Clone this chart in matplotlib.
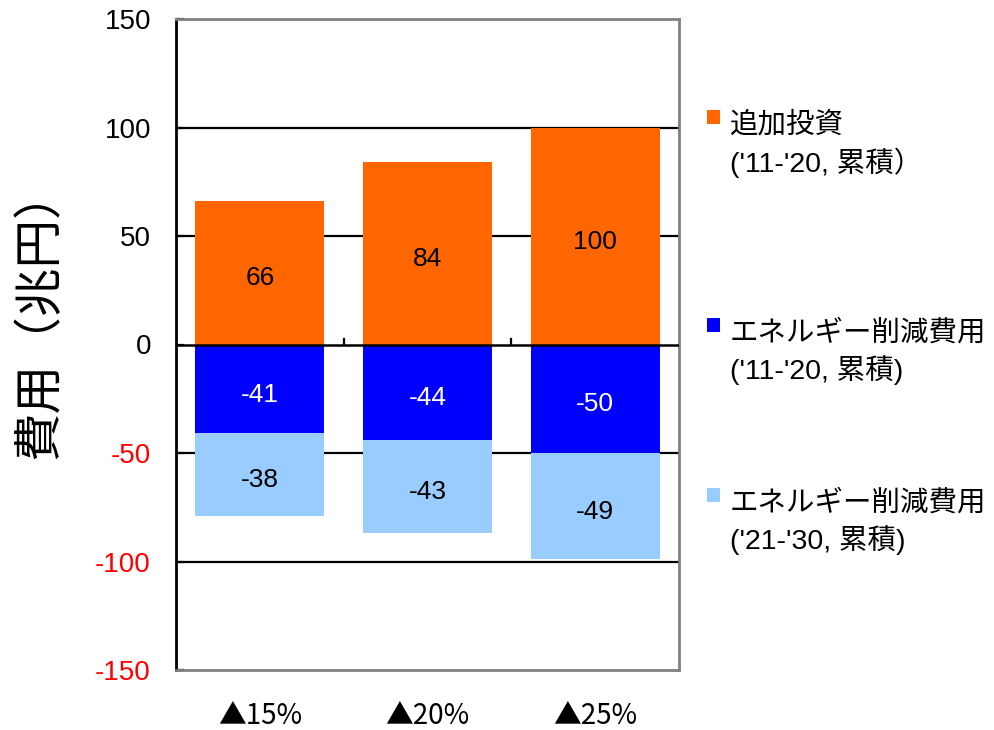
import matplotlib
matplotlib.use("Agg")
import matplotlib.pyplot as plt
from matplotlib.patches import Rectangle
import numpy as np

plt.rcParams['font.family'] = ['Liberation Sans', 'Noto Sans CJK JP', 'DejaVu Sans']

categories = ['▲15%', '▲20%', '▲25%']
invest = [66, 84, 100]
save_1120 = [-41, -44, -50]
save_2130 = [-38, -43, -49]
series_labels = ["追加投資\n('11-'20, 累積）",
                 "エネルギー削減費用\n('11-'20, 累積)",
                 "エネルギー削減費用\n('21-'30, 累積)"]
colors = ['#FF6600', '#0000FF', '#99CCFF']
yticks = [150, 100, 50, 0, -50, -100, -150]
ylabel = '費用（兆円）'

W, H = 994, 730
fig = plt.figure(figsize=(W / 100, H / 100), dpi=100)
ax = fig.add_axes([176 / W, 1 - 670 / H, 503 / W, 651 / H])

x = np.arange(len(categories))
w = 0.77
for yv in [100, 50, -50, -100]:
    ax.axhline(yv, color='black', lw=1.6, zorder=1)

ax.bar(x, invest, w, color=colors[0], zorder=2)
ax.bar(x, save_1120, w, color=colors[1], zorder=2)
ax.bar(x, save_2130, w, bottom=save_1120, color=colors[2], zorder=2)
ax.axhline(0, color='black', lw=1.8, zorder=3)

lab_kw = dict(ha='center', va='center', fontsize=19, textcoords='offset points', xytext=(0, -4), zorder=4)
for i in range(len(categories)):
    ax.annotate(str(invest[i]), (x[i], invest[i] / 2), color='black', **lab_kw)
    ax.annotate(str(save_1120[i]), (x[i], save_1120[i] / 2), color='white', **lab_kw)
    ax.annotate(str(save_2130[i]), (x[i], save_1120[i] + save_2130[i] / 2), color='black', **lab_kw)

# small category boundary ticks on the zero line
for bx in [0.5, 1.5]:
    ax.plot([bx, bx], [0, 2.5], color='black', lw=1.6, zorder=3)

ax.set_xlim(-0.5, len(categories) - 0.5)
ax.set_ylim(-150, 150)
ax.set_yticks(yticks)
ax.set_yticklabels([str(v) for v in yticks], fontsize=20)
for lbl, v in zip(ax.get_yticklabels(), yticks):
    lbl.set_color('red' if v < 0 else 'black')
ax.tick_params(axis='y', direction='in', length=6, width=1.6, color='black', pad=18)
ax.set_xticks(x)
ax.set_xticklabels(categories, fontsize=20, family=['Noto Sans CJK JP'])
ax.tick_params(axis='x', length=0, pad=22)

ax.spines['left'].set_color('black')
ax.spines['left'].set_linewidth(2)
for s in ['top', 'right', 'bottom']:
    ax.spines[s].set_color('#808080')
    ax.spines[s].set_linewidth(2)

fig.text(40 / W, 1 - 313 / H, ylabel, rotation=90, fontsize=35, ha='center', va='center')

# manual legend
sq_top = [110, 318, 488]
for lab, col, top in zip(series_labels, colors, sq_top):
    fig.patches.append(Rectangle((707 / W, 1 - (top + 14) / H), 13 / W, 14 / H,
                                 transform=fig.transFigure, facecolor=col, edgecolor='none'))
    for k, line in enumerate(lab.split('\n')):
        yc = top + 15 + 37.5 * k
        fig.text(730 / W, 1 - yc / H, line, fontsize=20.5, ha='left', va='center')

fig.savefig('out.png', dpi=100)
